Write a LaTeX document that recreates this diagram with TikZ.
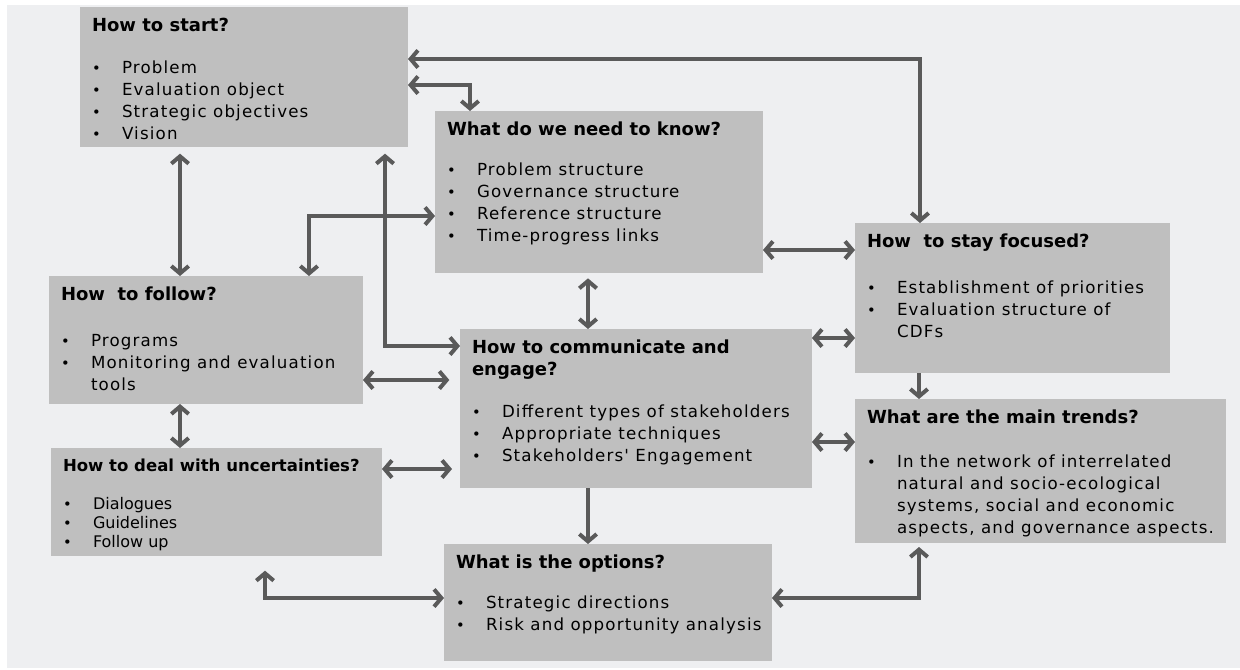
\documentclass[tikz,border=0pt]{standalone}
\usepackage{fontspec}
\setmainfont{DejaVu Sans}
\newfontfamily\spaced[LetterSpace=7]{DejaVu Sans}
\usetikzlibrary{arrows.meta}

\definecolor{bgpanel}{HTML}{EEEFF1}
\definecolor{boxgray}{HTML}{BFBFBF}
\definecolor{arrowgray}{HTML}{5A5A5A}

\newlength{\px}
\setlength{\px}{0.75pt}

% title and bullet lines of a box
\newcommand{\hd}[2][15pt]{{\normalfont\bfseries\fontsize{13.5}{16.5}\selectfont #2\par}\vspace{#1}}
\newcommand{\itm}[1]{\par{\leftskip=30\px\noindent\llap{\makebox[30\px][l]{\fontsize{11}{11}\selectfont •}}#1\par}}
\newcommand{\boxtext}[3]{\parbox[t][\dimexpr#2\px-16pt\relax][t]{\dimexpr#1\px-18pt\relax}{%
  \raggedright\rightskip=0pt plus 1fil minus 100pt\fontsize{12.5}{16.5}\spaced #3}}

\begin{document}
\begin{tikzpicture}[x=0.75pt, y=-0.75pt,
    >={Straight Barb[length=5.5pt,width=13pt]},
    panel/.style={fill=boxgray, inner xsep=9pt, inner ysep=8pt, outer sep=0pt, anchor=north west},
    link/.style={draw=arrowgray, line width=3pt}]

% Fondo
\useasboundingbox (0,0) rectangle (1240,669);
\fill[bgpanel] (7,5) rectangle (1240,668);

% Boxes
\node[panel] (start) at (80,7) {\boxtext{328}{140}{%
  \hd{How to start?}
  \itm{Problem}\itm{Evaluation object}\itm{Strategic objectives}\itm{Vision}}};

\node[panel] (know) at (435,111) {\boxtext{328}{162}{%
  \hd[13.5pt]{What do we need to know?}
  \itm{Problem structure}\itm{Governance structure}\itm{Reference structure}\itm{Time-progress links}}};

\node[panel] (focus) at (855,223) {\boxtext{315}{150}{%
  \hd[18pt]{How\ \ to stay focused?}
  \itm{Establishment of priorities}\itm{Evaluation structure of\\CDFs}}};

\node[panel] (follow) at (49,276) {\boxtext{314}{128}{%
  \hd[18pt]{How\ \ to follow?}
  \itm{Programs}\itm{Monitoring and evaluation\\tools}}};

\node[panel] (uncert) at (51,448) {\boxtext{331}{108}{%
  {\normalfont\bfseries\fontsize{12.4}{16.5}\selectfont How to deal with uncertainties?\par}\vspace{14.25pt}
  \normalfont\fontsize{12}{14.25}\selectfont
  \itm{Dialogues}\itm{Guidelines}\itm{Follow up}}};

\node[panel] (comm) at (460,329) {\boxtext{352}{159}{%
  \hd{How to communicate and\\engage?}
  \itm{Different types of stakeholders}\itm{Appropriate techniques}\itm{Stakeholders' Engagement}}};

\node[panel] (options) at (444,544) {\boxtext{328}{117}{%
  \hd[13.5pt]{What is the options?}
  \itm{Strategic directions}\itm{Risk and opportunity analysis}}};

\node[panel] (trends) at (855,399) {\boxtext{371}{144}{%
  \hd[16.5pt]{What are the main trends?}
  \itm{In the network of interrelated\\natural and socio-ecological\\systems, social and economic\\aspects, and governance aspects.}}};

% Connectors
\draw[link,<->] (start.east |- 0,59) -| (920,0 |- focus.north);
\draw[link,<->] (start.east |- 0,85) -| (470,0 |- know.north);
\draw[link,<->,shorten <=5pt] (180,0 |- start.south) -- (180,0 |- follow.north);
\draw[link,<->,shorten <=5pt] (385,0 |- start.south) |- (comm.west |- 0,346);
\draw[link,<->] (309,0 |- follow.north) |- (know.west |- 0,216);
\draw[link,<->,shorten >=8pt] (follow.east |- 0,380) -- (comm.west |- 0,380);
\draw[link,<->] (180,0 |- follow.south) -- (180,0 |- uncert.north);
\draw[link,<->,shorten >=6pt] (uncert.east |- 0,469) -- (comm.west |- 0,469);
\draw[link,<->,shorten <=4pt] (588,0 |- know.south) -- (588,0 |- comm.north);
\draw[link,<->] (know.east |- 0,250) -- (focus.west |- 0,250);
\draw[link,<->] (comm.east |- 0,338) -- (focus.west |- 0,338);
\draw[link,<->] (comm.east |- 0,442) -- (trends.west |- 0,442);
\draw[link,->] (588,0 |- comm.south) -- (588,0 |- options.north);
\draw[link,->] (919,0 |- focus.south) -- (919,0 |- trends.north);
\draw[link,<->,shorten <=11pt] (265,0 |- uncert.south) |- (options.west |- 0,598);
\draw[link,<->,shorten <=3pt] (919,0 |- trends.south) |- (options.east |- 0,598);

\end{tikzpicture}
\end{document}
